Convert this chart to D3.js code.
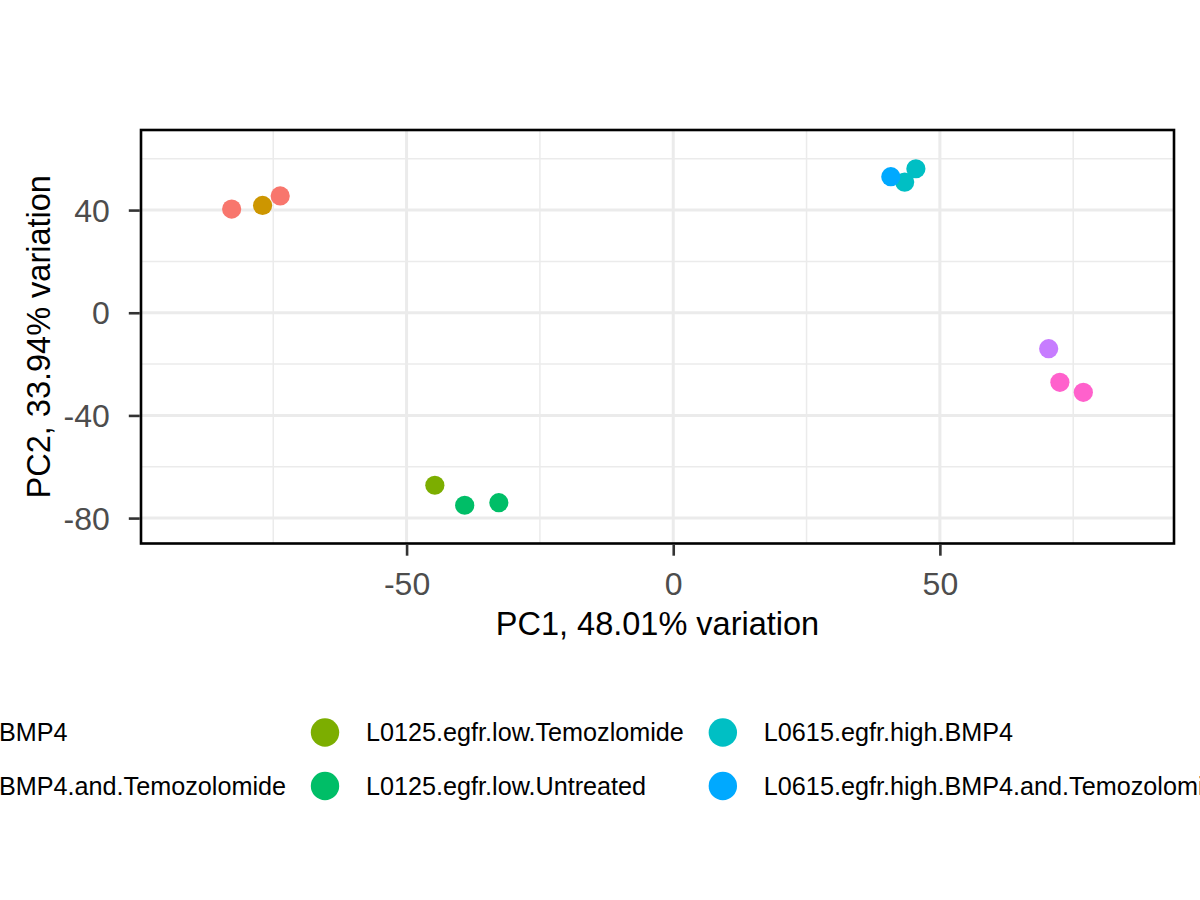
<!DOCTYPE html>
<html>
<head>
<meta charset="utf-8">
<script src="https://cdn.jsdelivr.net/npm/d3@7"></script>
<style>
  html, body { margin: 0; padding: 0; background: #fff; }
  svg { display: block; font-family: "Liberation Sans", Arial, Helvetica, sans-serif; }
</style>
</head>
<body>
<script>
// groups, in legend order, with ggplot hue colours
var groups = [
  "L0125.egfr.low.BMP4",
  "L0125.egfr.low.BMP4.and.Temozolomide",
  "L0125.egfr.low.Temozlomide",
  "L0125.egfr.low.Untreated",
  "L0615.egfr.high.BMP4",
  "L0615.egfr.high.BMP4.and.Temozolomide",
  "L0615.egfr.high.Temozlomide",
  "L0615.egfr.high.Untreated"
];
var colors = ["#F8766D", "#CD9600", "#7CAE00", "#00BE67", "#00BFC4", "#00A9FF", "#C77CFF", "#FF61CC"];

// samples (PC1, PC2)
var sampleGroup = [0, 1, 0, 2, 3, 3, 4, 4, 5, 6, 7, 7];
var pc1 = [-82.8, -77.0, -73.7, -44.7, -39.1, -32.7, 43.4, 45.5, 40.8, 70.4, 72.5, 76.9];
var pc2 = [40.4, 41.8, 45.5, -67.2, -75.0, -74.0, 50.9, 56.1, 53.0, -14.0, -27.1, -31.0];

var xTicks = [-50, 0, 50];
var xMinor = [-75, -25, 25, 75];
var yTicks = [-80, -40, 0, 40];
var yMinor = [-60, -20, 20, 60];

var xTitle = "PC1, 48.01% variation";
var yTitle = "PC2, 33.94% variation";

var width = 1200, height = 900;
var panel = { left: 141, right: 1174, top: 130, bottom: 543.5 };

var svg = d3.select("body").append("svg")
  .attr("width", width)
  .attr("height", height);

var x = d3.scaleLinear().domain([-99.8, 93.9]).range([panel.left, panel.right]);
var y = d3.scaleLinear().domain([-89.9, 71.2]).range([panel.bottom, panel.top]);

// grid
var grid = svg.append("g");
grid.selectAll(".xminor").data(xMinor).enter().append("line")
  .attr("x1", d => x(d)).attr("x2", d => x(d))
  .attr("y1", panel.top).attr("y2", panel.bottom)
  .attr("stroke", "#EBEBEB").attr("stroke-width", 1.5);
grid.selectAll(".yminor").data(yMinor).enter().append("line")
  .attr("y1", d => y(d)).attr("y2", d => y(d))
  .attr("x1", panel.left).attr("x2", panel.right)
  .attr("stroke", "#EBEBEB").attr("stroke-width", 1.5);
grid.selectAll(".xmajor").data(xTicks).enter().append("line")
  .attr("x1", d => x(d)).attr("x2", d => x(d))
  .attr("y1", panel.top).attr("y2", panel.bottom)
  .attr("stroke", "#EBEBEB").attr("stroke-width", 3);
grid.selectAll(".ymajor").data(yTicks).enter().append("line")
  .attr("y1", d => y(d)).attr("y2", d => y(d))
  .attr("x1", panel.left).attr("x2", panel.right)
  .attr("stroke", "#EBEBEB").attr("stroke-width", 3);

// points
var samples = pc1.map(function(v, i) {
  return { x: v, y: pc2[i], g: sampleGroup[i] };
});
samples.sort(function(a, b) { return a.g - b.g; });

svg.append("g").selectAll("circle")
  .data(samples)
  .enter().append("circle")
  .attr("cx", d => x(d.x))
  .attr("cy", d => y(d.y))
  .attr("r", 9.6)
  .attr("fill", d => colors[d.g]);

// panel border
svg.append("rect")
  .attr("x", panel.left).attr("y", panel.top)
  .attr("width", panel.right - panel.left)
  .attr("height", panel.bottom - panel.top)
  .attr("fill", "none")
  .attr("stroke", "#000")
  .attr("stroke-width", 2.6);

// axes (plain hyphen for negatives, as in R)
var fmt = d => String(d);
var xAxis = svg.append("g")
  .attr("transform", "translate(0," + (panel.bottom + 1.2) + ")")
  .call(d3.axisBottom(x).tickValues(xTicks).tickSize(11).tickFormat(fmt));
var yAxis = svg.append("g")
  .attr("transform", "translate(" + (panel.left - 1.2) + ",0)")
  .call(d3.axisLeft(y).tickValues(yTicks).tickSize(11).tickFormat(fmt));

[xAxis, yAxis].forEach(function(a) {
  a.select(".domain").remove();
  a.selectAll(".tick line").attr("stroke", "#333333").attr("stroke-width", 2.6);
  a.selectAll(".tick text")
    .attr("fill", "#4D4D4D")
    .style("font-size", "32px")
    .style("font-family", "\"Liberation Sans\", Arial, Helvetica, sans-serif");
});
xAxis.selectAll(".tick text").attr("dy", null).attr("y", 50);
yAxis.selectAll(".tick text").attr("dy", "0.35em").attr("x", -30);

// axis titles
svg.append("text")
  .attr("x", (panel.left + panel.right) / 2)
  .attr("y", 634.5)
  .attr("text-anchor", "middle")
  .style("font-size", "32.5px")
  .attr("fill", "#000")
  .text(xTitle);

svg.append("text")
  .attr("transform", "translate(50," + (panel.top + panel.bottom) / 2 + ") rotate(-90)")
  .attr("text-anchor", "middle")
  .style("font-size", "32.5px")
  .attr("fill", "#000")
  .text(yTitle);

// legend: 2 rows, filled column by column
var legend = svg.append("g");
var rowY = [732.5, 786];
var legendFont = "25.2px";
var keyToLabel = 41, labelToKey = 39;

var measure = legend.append("text").style("font-size", legendFont);
function textWidth(s) {
  measure.text(s);
  return measure.node().getComputedTextLength();
}
var nCols = Math.ceil(groups.length / 2);
var colWidths = [];
for (var c = 0; c < nCols; c++) {
  colWidths.push(d3.max(groups.slice(c * 2, c * 2 + 2), textWidth));
}
measure.remove();

// second column key sits at x = 325; place the others around it
var colKeyX = [];
colKeyX[1] = 325;
colKeyX[0] = colKeyX[1] - labelToKey - colWidths[0] - keyToLabel;
for (var c2 = 2; c2 < nCols; c2++) {
  colKeyX[c2] = colKeyX[c2 - 1] + keyToLabel + colWidths[c2 - 1] + labelToKey;
}

var items = legend.selectAll(".item")
  .data(groups)
  .enter().append("g")
  .attr("transform", function(d, i) {
    return "translate(" + colKeyX[Math.floor(i / 2)] + "," + rowY[i % 2] + ")";
  });
items.append("circle")
  .attr("r", 14.2)
  .attr("fill", (d, i) => colors[i]);
items.append("text")
  .attr("x", keyToLabel)
  .attr("dy", "0.35em")
  .style("font-size", legendFont)
  .attr("fill", "#000")
  .text(d => d);
</script>
</body>
</html>
